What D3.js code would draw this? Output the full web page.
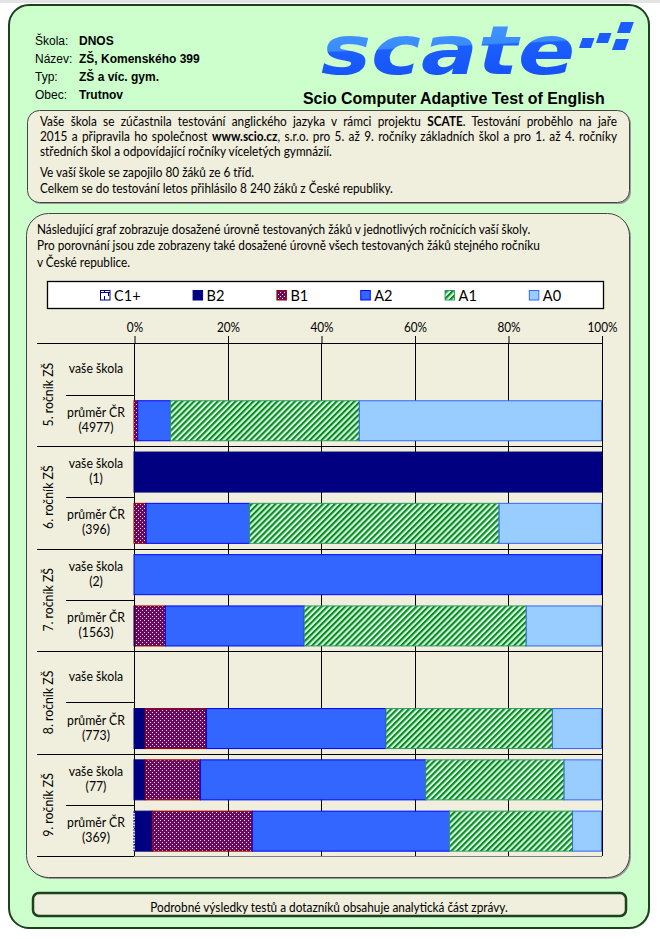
<!DOCTYPE html>
<html><head><meta charset="utf-8">
<script src="https://cdn.jsdelivr.net/npm/d3@7"></script>
<style>body{margin:0;background:#fff;} svg{display:block;}</style>
</head><body><div id="chart"></div>
<script>
// ---------- DATA ----------
const infoLabels = ["Škola:", "Název:", "Typ:", "Obec:"];
const infoValues = ["DNOS", "ZŠ, Komenského 399", "ZŠ a víc. gym.", "Trutnov"];
const subtitle = "Scio Computer Adaptive Test of English";
const infoText = [
  [["Vaše škola se zúčastnila testování anglického jazyka v rámci projektu ", false], ["SCATE", true], [". Testování proběhlo na jaře", false]],
  [["2015 a připravila ho společnost ", false], ["www.scio.cz", true], [", s.r.o. pro 5. až 9. ročníky základních škol a pro 1. až 4. ročníky", false]],
  [["středních škol a odpovídající ročníky víceletých gymnázií.", false]],
  [["Ve vaší škole se zapojilo 80 žáků ze 6 tříd.", false]],
  [["Celkem se do testování letos přihlásilo 8 240 žáků z České republiky.", false]]
];
const introText = [
  "Následující graf zobrazuje dosažené úrovně testovaných žáků v jednotlivých ročnících vaší školy.",
  "Pro porovnání jsou zde zobrazeny také dosažené úrovně všech testovaných žáků stejného ročníku",
  "v České republice."
];
const footerText = "Podrobné výsledky testů a dotazníků obsahuje analytická část zprávy.";

const grades = ["5. ročník ZŠ", "6. ročník ZŠ", "7. ročník ZŠ", "8. ročník ZŠ", "9. ročník ZŠ"];
const rowLabels = [
  ["vaše škola"], ["průměr ČR", "(4977)"],
  ["vaše škola", "(1)"], ["průměr ČR", "(396)"],
  ["vaše škola", "(2)"], ["průměr ČR", "(1563)"],
  ["vaše škola"], ["průměr ČR", "(773)"],
  ["vaše škola", "(77)"], ["průměr ČR", "(369)"]
];
const levels = ["C1+", "B2", "B1", "A2", "A1", "A0"];
const valC1 = [0, 0,    0,   0,    0,   0,    0, 0,    0,    0.3];
const valB2 = [0, 0,    100, 0,    0,   0.3,  0, 2.4,  2.4,  3.6];
const valB1 = [0, 0.8,  0,   2.6,  0,   6.4,  0, 13.1, 11.8, 21.4];
const valA2 = [0, 7.0,  0,   22.1, 100, 29.7, 0, 38.4, 48.2, 42.2];
const valA1 = [0, 40.4, 0,   53.4, 0,   47.5, 0, 35.6, 29.6, 26.3];
const valA0 = [0, 51.8, 0,   21.9, 0,   16.1, 0, 10.5, 8.0,  6.2];
const tickValues = [0, 20, 40, 60, 80, 100];
const tickLabels = ["0%", "20%", "40%", "60%", "80%", "100%"];

// ---------- SETUP ----------
const W = 660, H = 939;
const svg = d3.select("#chart").append("svg").attr("width", W).attr("height", H);
const defs = svg.append("defs");
const CAL = "Lato, 'Open Sans', sans-serif";
const ARIAL = "'Liberation Sans', Arial, sans-serif";
const BODY = 13;

// calibrate a narrow (Calibri-like) look
const probe = svg.append("text").attr("font-family", CAL).attr("font-size", BODY).text(introText[0]);
const SX = Math.max(0.75, Math.min(1, 494 / probe.node().getComputedTextLength()));
probe.remove();

function cal(parent, x, y, segs, size, anchor, opts) {
  opts = opts || {};
  const t = parent.append("text")
    .attr("transform", `translate(${x},${y}) scale(${SX},1)`)
    .attr("font-family", CAL).attr("font-size", size)
    .attr("text-anchor", anchor || "start").attr("fill", opts.fill || "#000");
  if (typeof segs === "string") t.text(segs);
  else segs.forEach(s => t.append("tspan").attr("font-weight", s[1] ? "bold" : null).text(s[0]));
  if (opts.justify) {
    const w = t.node().getComputedTextLength();
    const full = typeof segs === "string" ? segs : segs.map(s => s[0]).join("");
    const n = (full.match(/ /g) || []).length;
    t.attr("word-spacing", (opts.justify / SX - w) / n);
  }
  return t;
}

// patterns
const pB1 = defs.append("pattern").attr("id", "patB1").attr("patternUnits", "userSpaceOnUse").attr("width", 4).attr("height", 4);
pB1.append("rect").attr("width", 4).attr("height", 4).attr("fill", "#6a0a5e");
pB1.append("rect").attr("x", 0).attr("y", 0).attr("width", 1).attr("height", 1).attr("fill", "#f3d9ee");
pB1.append("rect").attr("x", 2).attr("y", 2).attr("width", 1).attr("height", 1).attr("fill", "#f3d9ee");

const pA1 = defs.append("pattern").attr("id", "patA1").attr("patternUnits", "userSpaceOnUse")
  .attr("width", 4.2).attr("height", 4.2).attr("patternTransform", "rotate(45)");
pA1.append("rect").attr("width", 4.2).attr("height", 4.2).attr("fill", "#d4fbe8");
pA1.append("rect").attr("width", 2.1).attr("height", 4.2).attr("fill", "#0a8a1a");

const pC1 = defs.append("pattern").attr("id", "patC1").attr("patternUnits", "userSpaceOnUse").attr("width", 8).attr("height", 8);
pC1.append("rect").attr("width", 8).attr("height", 8).attr("fill", "#fff");
pC1.append("path").attr("d", "M0,4.5H8M4.5,4.5V8M0.5,0V4.5").attr("stroke", "#000080").attr("stroke-width", 1);

const lg = defs.append("linearGradient").attr("id", "logoGrad").attr("x1", 0).attr("y1", 0).attr("x2", 0.15).attr("y2", 1);
lg.append("stop").attr("offset", 0).attr("stop-color", "#4d9dff");
lg.append("stop").attr("offset", 0.5).attr("stop-color", "#3a8bff");
lg.append("stop").attr("offset", 0.52).attr("stop-color", "#1c5eff");
lg.append("stop").attr("offset", 1).attr("stop-color", "#1450f5");

// ---------- FRAMES ----------
svg.append("rect").attr("x", 0).attr("y", 0).attr("width", W).attr("height", 3).attr("fill", "#e4e4e4");
svg.append("rect").attr("x", 10).attr("y", 6).attr("width", 640).attr("height", 923).attr("rx", 20)
  .attr("fill", "#a0a0a0");
svg.append("rect").attr("x", 9).attr("y", 5).attr("width", 640).attr("height", 923).attr("rx", 20)
  .attr("fill", "#ccffcc").attr("stroke", "#1d401d").attr("stroke-width", 2);

function box(x, y, w, h, r, stroke, sw) {
  svg.append("rect").attr("x", x + 1.5).attr("y", y + 1.5).attr("width", w).attr("height", h).attr("rx", r).attr("fill", "#9a9a9a");
  svg.append("rect").attr("x", x).attr("y", y).attr("width", w).attr("height", h).attr("rx", r)
    .attr("fill", "#f0eedc").attr("stroke", stroke).attr("stroke-width", sw);
}
box(27.5, 110.5, 602, 92, 12, "#444", 1);
box(26.5, 213.5, 603, 664, 22, "#444", 1);
svg.append("rect").attr("x", 33).attr("y", 893).attr("width", 593).attr("height", 23).attr("rx", 6)
  .attr("fill", "#f0eedc").attr("stroke", "#1d401d").attr("stroke-width", 2.5);

// ---------- HEADER ----------
const hdrSize = 12;
const hdrBase = [45, 63, 81, 99];
infoLabels.forEach((l, i) => {
  svg.append("text").attr("x", 35).attr("y", hdrBase[i]).attr("font-family", ARIAL).attr("font-size", hdrSize).text(l);
  svg.append("text").attr("x", 79).attr("y", hdrBase[i]).attr("font-family", ARIAL).attr("font-weight", "bold").attr("font-size", hdrSize).text(infoValues[i]);
});

// logo
svg.append("text").attr("x", 321).attr("y", 74).attr("font-family", "'DejaVu Sans', sans-serif")
  .attr("font-weight", "bold").attr("font-style", "italic").attr("font-size", 68)
  .attr("textLength", 254).attr("lengthAdjust", "spacingAndGlyphs")
  .attr("fill", "url(#logoGrad)").text("scate");
const logoBits = [[579, 38, 12, 10], [596, 33, 12, 10], [612, 39, 13, 11], [617, 22, 13, 11]];
logoBits.forEach(b => {
  const [bx, by, bw, bh] = b, s = bh * 0.35;
  svg.append("path").attr("d", `M${bx},${by + bh}L${bx + s},${by}L${bx + s + bw},${by}L${bx + bw},${by + bh}Z`).attr("fill", "#1a5cff");
});
const sp = svg.append("text").attr("font-family", ARIAL).attr("font-weight", "bold").attr("font-size", 14).text(subtitle);
const subSize = 14 * 302 / sp.node().getComputedTextLength();
sp.remove();
svg.append("text").attr("x", 303).attr("y", 104).attr("font-family", ARIAL).attr("font-weight", "bold")
  .attr("font-size", subSize).text(subtitle);

// ---------- INFO TEXT ----------
const infoBase = [126, 141, 156, 177, 193];
infoText.forEach((segs, i) => cal(svg, 40, infoBase[i], segs, BODY, "start", i < 2 ? { justify: 577 } : {}));

const introBase = [234, 250, 267];
introText.forEach((t, i) => cal(svg, 37, introBase[i], t, BODY));

// ---------- LEGEND ----------
svg.append("rect").attr("x", 47.5).attr("y", 281.5).attr("width", 556).attr("height", 27).attr("fill", "#fff").attr("stroke", "#000").attr("stroke-width", 1.3);
const fills = { "C1+": "url(#patC1)", B2: "#000080", B1: "url(#patB1)", A2: "#3366ff", A1: "url(#patA1)", A0: "#99ccff" };
const strokes = { "C1+": "#000080", B2: "#000080", B1: "#990000", A2: "#0000ff", A1: "#339966", A0: "#3366ff" };
let lx = 100;
levels.forEach(k => {
  svg.append("rect").attr("x", lx + 0.5).attr("y", 290.5).attr("width", 9.5).attr("height", 9.5)
    .attr("fill", fills[k]).attr("stroke", strokes[k]).attr("stroke-width", 1);
  const t = cal(svg, lx + 14, 301, k, 16);
  lx = lx + 14 + t.node().getComputedTextLength() * SX + 52;
});

// ---------- CHART ----------
const x = d3.scaleLinear().domain([0, 100]).range([134, 601.5]);
const y = d3.scaleBand().domain(d3.range(rowLabels.length)).range([343.3, 856.3]).paddingInner(0.22).paddingOuter(0.11);
const step = y.step(), top0 = y.range()[0];

const g = svg.append("g");
// gridlines
g.selectAll(".grid").data(tickValues).join("line")
  .attr("x1", d => Math.round(x(d)) + 0.5).attr("x2", d => Math.round(x(d)) + 0.5)
  .attr("y1", 343).attr("y2", 856).attr("stroke", "#000").attr("stroke-width", 1);

// axis
const ax = g.append("g").attr("transform", "translate(0.5,343)")
  .call(d3.axisTop(x).tickValues(tickValues).tickFormat((d, i) => tickLabels[i]).tickSize(7).tickPadding(4));
ax.select(".domain").remove();
ax.selectAll(".tick line").attr("stroke", "#000");
ax.selectAll(".tick text").attr("font-family", CAL).attr("font-size", 13).attr("fill", "#000")
  .attr("transform", `scale(${SX},1)`);

// horizontal lines
g.append("line").attr("x1", 37).attr("x2", 602).attr("y1", 343.5).attr("y2", 343.5).attr("stroke", "#000");
rowLabels.forEach((r, i) => {
  if (i === 0) return;
  const yy = Math.round(top0 + i * step) + 0.5;
  if (i % 2 === 0) g.append("line").attr("x1", 37).attr("x2", 603).attr("y1", yy).attr("y2", yy).attr("stroke", "#000");
  else g.append("line").attr("x1", 66).attr("x2", 134).attr("y1", yy).attr("y2", yy).attr("stroke", "#000");
});
const yb = Math.round(top0 + rowLabels.length * step) + 0.5;
g.append("line").attr("x1", 37).attr("x2", 134).attr("y1", yb).attr("y2", yb).attr("stroke", "#000");
g.append("line").attr("x1", 134).attr("x2", 602).attr("y1", yb).attr("y2", yb).attr("stroke", "#7f7f7f");

// bars
const seriesValues = { "C1+": valC1, B2: valB2, B1: valB1, A2: valA2, A1: valA1, A0: valA0 };
const table = rowLabels.map((r, i) => { const o = { i }; levels.forEach(k => o[k] = seriesValues[k][i]); return o; });
const stacked = d3.stack().keys(levels)(table);
stacked.forEach(s => {
  g.append("g").selectAll("rect").data(s.filter(d => d[1] - d[0] > 0)).join("rect")
    .attr("x", d => x(d[0])).attr("width", d => x(d[1]) - x(d[0]))
    .attr("y", d => y(d.data.i) + 0.5).attr("height", y.bandwidth())
    .attr("fill", fills[s.key]).attr("stroke", strokes[s.key]).attr("stroke-width", 1)
    .attr("stroke-dasharray", s.key === "C1+" ? "2,1" : null);
});

// row labels
rowLabels.forEach((r, i) => {
  const cy = top0 + (i + 0.5) * step;
  if (r.length === 1) cal(g, 96, cy + 4.5, r[0], 13.5, "middle");
  else { cal(g, 96, cy - 3.5, r[0], 13.5, "middle"); cal(g, 96, cy + 11.5, r[1], 13.5, "middle"); }
});
// group labels
grades.forEach((gr, j) => {
  const cy = top0 + (2 * j + 1) * step;
  g.append("text").attr("transform", `translate(53,${cy}) rotate(-90) scale(${SX},1)`)
    .attr("font-family", CAL).attr("font-size", 13.5).attr("text-anchor", "middle").text(gr);
});

// footer
cal(svg, 329, 912, footerText, BODY, "middle");
</script>
</body></html>
